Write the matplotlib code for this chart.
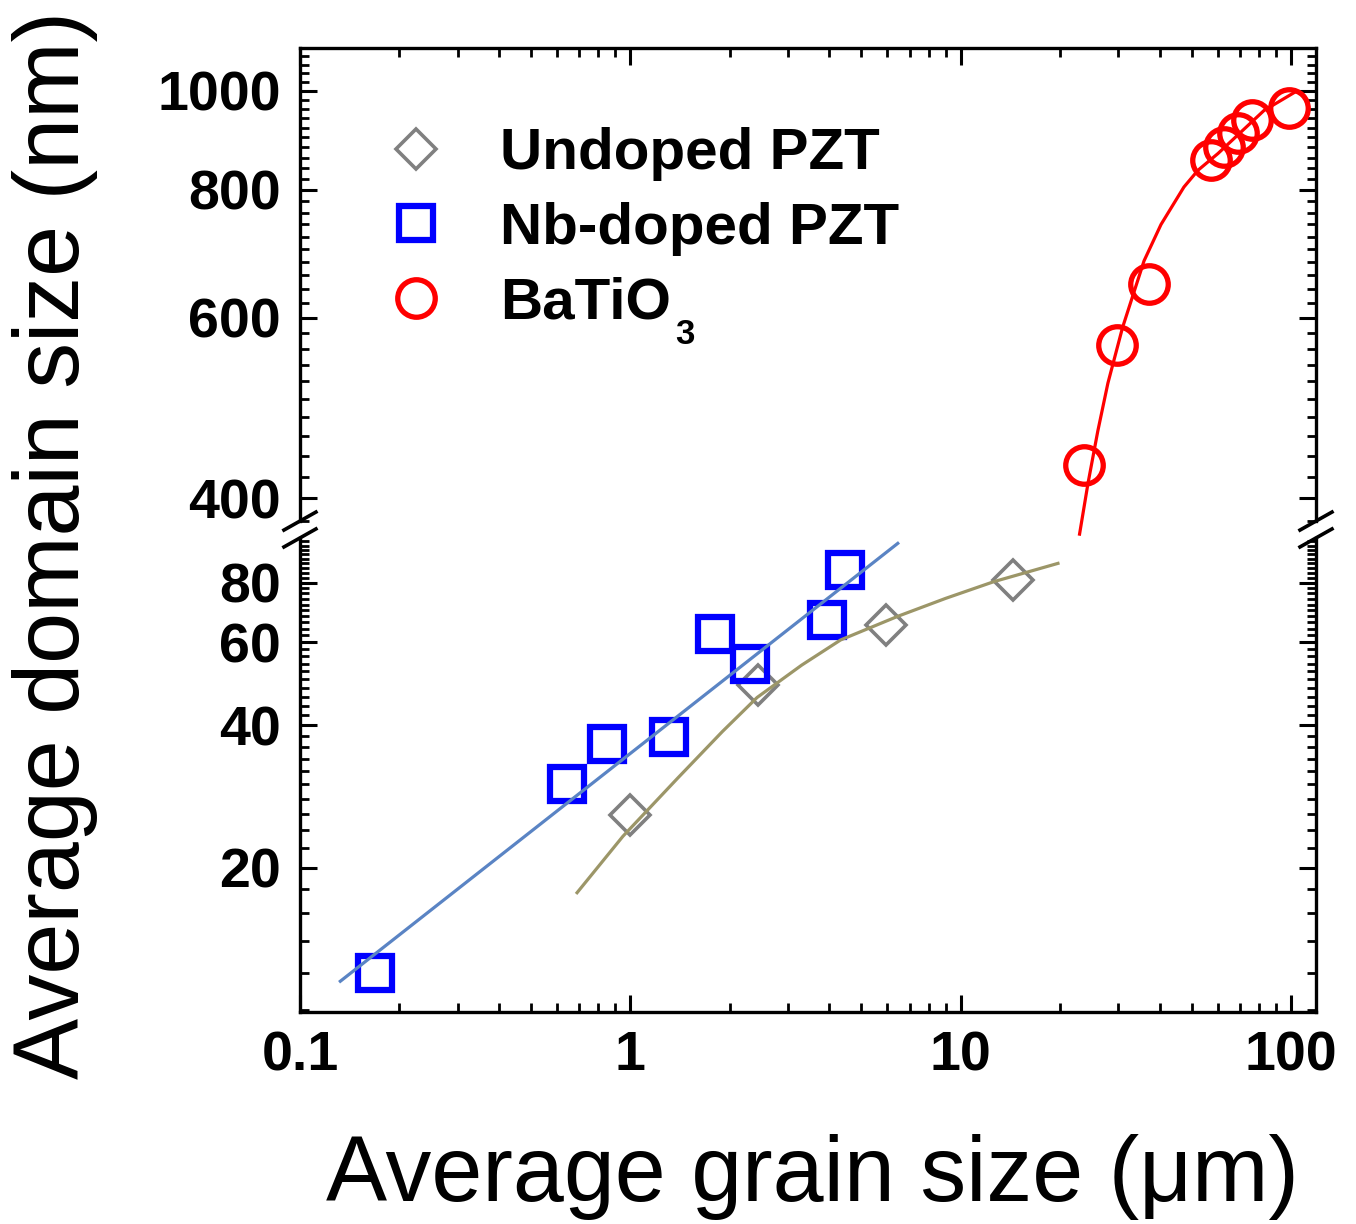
import matplotlib
matplotlib.use("Agg")
import matplotlib.pyplot as plt
from matplotlib.lines import Line2D
from matplotlib.ticker import FixedLocator, LogLocator, NullFormatter, FixedFormatter
import numpy as np

plt.rcParams['font.family'] = ['Liberation Sans', 'DejaVu Sans']

# data
# Undoped PZT
und_x = [1.0, 2.43, 5.93, 14.4]
und_y = [25.9, 48.7, 65.3, 81.3]
und_fit_x = [0.69, 0.95, 1.39, 1.9, 2.42, 3.3, 4.33, 6.45, 9.0, 12.6, 19.7]
und_fit_y = [17.7, 23.3, 30.9, 38.8, 45.8, 53.6, 60.6, 68.0, 74.2, 80.5, 88.0]

# Nb-doped PZT
nb_x = [0.169, 0.644, 0.852, 1.31, 1.81, 2.31, 3.95, 4.48]
nb_y = [12.0, 30.0, 36.6, 37.8, 62.5, 53.9, 66.9, 85.3]
nb_fit_x = [0.1325, 6.45]
nb_fit_y = [11.5, 97.0]

# BaTiO3
bto_x = [23.6, 29.7, 37.1, 57.2, 62.7, 69.1, 76.2, 98.6]
bto_y = [431, 564, 647, 855, 880, 908, 935, 962]
bto_fit_x = [22.9, 24.3, 26.0, 27.9, 30.9, 35.9, 40.4, 47.4, 52.3, 60.1, 82.8, 102]
bto_fit_y = [369, 414, 465, 518, 587, 682, 740, 805, 836, 868, 956, 995]

x_ticks = [0.1, 1, 10, 100]
x_ticklabels = ['0.1', '1', '10', '100']
top_ticks = [400, 600, 800, 1000]
bot_ticks = [20, 40, 60, 80]

W, H = 1356, 1224
fig = plt.figure(figsize=(W / 100, H / 100), dpi=100)
ax_top = fig.add_axes([0.2212, 0.5743, 0.7493, 0.3864])
ax_bot = fig.add_axes([0.2212, 0.1732, 0.7493, 0.3873])

for ax in (ax_top, ax_bot):
    ax.set_xscale('log')
    ax.set_yscale('log')
    ax.set_xlim(0.1, 119)
    ax.xaxis.set_major_locator(FixedLocator(x_ticks))
    ax.xaxis.set_minor_locator(LogLocator(base=10, subs=np.arange(2, 10)))
    ax.xaxis.set_minor_formatter(NullFormatter())
    ax.yaxis.set_minor_formatter(NullFormatter())
    for s in ax.spines.values():
        s.set_linewidth(2.4)
    ax.tick_params(which='major', direction='in', length=12, width=2.2)
    ax.tick_params(which='minor', direction='in', length=6.5, width=2.0)
    ax.tick_params(axis='y', which='both', left=True, right=True, pad=14)

# upper panel
ax_top.set_ylim(380, 1100)
ax_top.yaxis.set_major_locator(FixedLocator(top_ticks))
ax_top.yaxis.set_major_formatter(FixedFormatter([str(t) for t in top_ticks]))
ax_top.yaxis.set_minor_locator(FixedLocator([v for v in range(380, 1100, 20) if v not in top_ticks]))
ax_top.spines['bottom'].set_visible(False)
ax_top.tick_params(axis='x', which='both', bottom=False, top=True, labelbottom=False)

# lower panel
ax_bot.set_ylim(9.9, 99.6)
ax_bot.yaxis.set_major_locator(FixedLocator(bot_ticks))
ax_bot.yaxis.set_major_formatter(FixedFormatter([str(t) for t in bot_ticks]))
ax_bot.yaxis.set_minor_locator(FixedLocator([v for v in range(10, 100, 2) if v not in bot_ticks]))
ax_bot.spines['top'].set_visible(False)
ax_bot.tick_params(axis='x', which='both', bottom=True, top=False, pad=13)
ax_bot.xaxis.set_major_formatter(FixedFormatter(x_ticklabels))

for ax in (ax_top, ax_bot):
    for lab in ax.get_yticklabels() + ax.get_xticklabels():
        lab.set_fontsize(40)
        lab.set_fontweight('bold')

# markers
ax_bot.plot(und_x, und_y, 'D', mfc='none', mec='#808080', ms=20, mew=2.6, clip_on=False)
ax_bot.plot(nb_x, nb_y, 's', mfc='none', mec='#0000ff', ms=24, mew=4.5, clip_on=False)
ax_top.plot(bto_x, bto_y, 'o', mfc='none', mec='#ff0000', ms=27, mew=3.8, clip_on=False)

# fit curves
ax_bot.plot(nb_fit_x, nb_fit_y, color='#5a84c4', lw=2.3)
ax_bot.plot(und_fit_x, und_fit_y, color='#9c9668', lw=2.3)
ax_top.plot(bto_fit_x, bto_fit_y, color='#ff0000', lw=2.3, clip_on=False)

# axis break marks
dx = 16 / 1016
for ax, h in ((ax_top, 473), (ax_bot, 474)):
    yb = 0 if ax is ax_top else 1
    dy = 9 / h
    for xb in (0, 1):
        ax.plot([xb - dx, xb + dx], [yb - dy, yb + dy], transform=ax.transAxes,
                color='k', lw=2.6, clip_on=False)

# legend
handles = [
    Line2D([], [], ls='none', marker='D', mfc='none', mec='#808080', ms=20, mew=2.6),
    Line2D([], [], ls='none', marker='s', mfc='none', mec='#0000ff', ms=24, mew=4.5),
    Line2D([], [], ls='none', marker='o', mfc='none', mec='#ff0000', ms=27, mew=3.8),
]
labels = ['Undoped PZT', 'Nb-doped PZT', 'BaTiO']
leg = ax_top.legend(handles, labels, loc='upper left', bbox_to_anchor=(0.0856, 0.8325),
                    frameon=False, prop=dict(size=42, weight='bold'), handlelength=1.0,
                    handletextpad=0.94, labelspacing=0.35, borderpad=0, borderaxespad=0)

# subscript 3 of BaTiO3, set low like in the original
fig.canvas.draw()
bb = leg.get_texts()[2].get_window_extent()
fig.text((bb.x1 + 4) / W, (bb.y0 + 12) / H, '3', fontsize=25, fontweight='bold',
         ha='left', va='top')

fig.text(0.0406, 0.555, 'Average domain size (nm)', rotation=90, fontsize=66,
         ha='center', va='center')
fig.text(0.599, 0.038, 'Average grain size (\u03bcm)', fontsize=66,
         ha='center', va='center')

fig.savefig('out.png', dpi=100)
